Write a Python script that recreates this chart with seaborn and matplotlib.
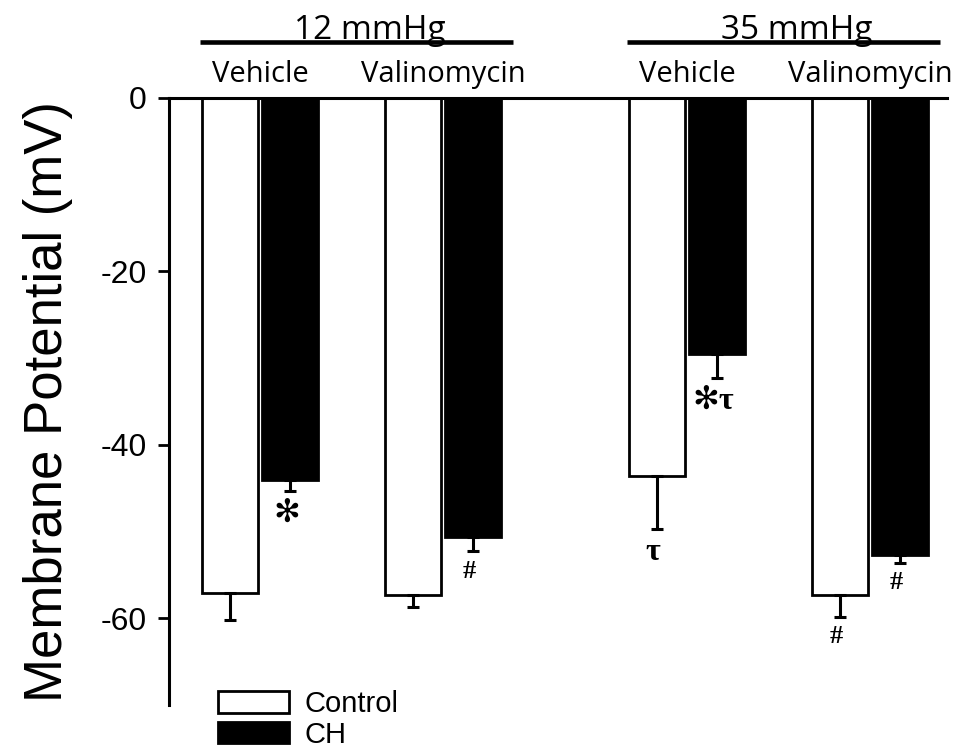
import numpy as np
import pandas as pd
import seaborn as sns
import matplotlib.pyplot as plt
from matplotlib import font_manager


# values (mV, mean and SEM)
pressure = ['12 mmHg', '35 mmHg']
treatment = ['Vehicle', 'Valinomycin', 'Vehicle', 'Valinomycin']
control_mean = [-57.1, -57.3, -43.6, -57.3]
control_sem = [3.1, 1.4, 6.1, 2.5]
ch_mean = [-44.0, -50.6, -29.5, -52.7]
ch_sem = [1.3, 1.7, 2.8, 0.9]
control_marks = ['', '', '\u03c4', '#']
ch_marks = ['\u273b', '#', '\u273b\u03c4', '#']
yticks = [0, -20, -40, -60]

# numeric slots so the two pressure blocks sit further apart
slots = [0, 1, 7 / 3, 10 / 3]

sns.set_style('white')
plt.rcParams['font.family'] = ['Liberation Sans', 'DejaVu Sans']
plt.rcParams['axes.unicode_minus'] = False
for key in ['text.color', 'axes.labelcolor', 'xtick.color', 'ytick.color']:
    plt.rcParams[key] = 'black'

names = {f.name for f in font_manager.fontManager.ttflist}
tick_font = 'Liberation Sans Narrow' if 'Liberation Sans Narrow' in names else 'Liberation Sans'
tick_size = 25 if tick_font == 'Liberation Sans Narrow' else 23

df = pd.DataFrame({
    'slot': slots * 2,
    'group': ['Control'] * 4 + ['CH'] * 4,
    'mean': control_mean + ch_mean,
})

fig = plt.figure(figsize=(9.59, 7.56), dpi=100)
ax = fig.add_axes([0.1762, 0.0675, 0.8113, 0.8029])

sns.barplot(
    data=df, x='slot', y='mean', hue='group',
    hue_order=['Control', 'CH'], native_scale=True,
    palette={'Control': 'white', 'CH': 'black'},
    edgecolor='black', linewidth=2, width=0.66, gap=0.08,
    errorbar=None, ax=ax)

# one-sided SEM bars hanging below each bar
for cont, sems, marks in zip(ax.containers, [control_sem, ch_sem],
                             [control_marks, ch_marks]):
    xs = [b.get_x() + b.get_width() / 2 for b in cont]
    ys = [b.get_height() for b in cont]
    ax.errorbar(xs, ys, yerr=[sems, np.zeros(len(sems))], fmt='none',
                ecolor='black', elinewidth=2.2, capsize=4.5, capthick=2.2,
                zorder=3)
    for x, y, s, m in zip(xs, ys, sems, marks):
        if not m:
            continue
        size = 19 if m == '#' else 23
        ax.text(x - 0.02, y - s - 1.0, m, ha='center', va='top',
                fontsize=size, fontweight='bold',
                family=['Liberation Serif', 'DejaVu Sans'])

handles, labels = ax.get_legend_handles_labels()
ax.get_legend().remove()

ax.set_ylim(-70, 0)
ax.set_xlim(-0.497, 3.754)
ax.set_xticks([])
ax.set_xlabel('')
ax.set_yticks(yticks)
ax.set_yticklabels([str(t) for t in yticks], family=tick_font, fontsize=tick_size)
ax.tick_params(axis='y', direction='out', length=8, width=2, pad=8, left=True)
ax.set_ylabel('Membrane Potential (mV)', fontsize=38, labelpad=20)

sns.despine(ax=ax, top=False, right=True, bottom=True, left=False)
for side in ['top', 'left']:
    ax.spines[side].set_linewidth(2.2)
    ax.spines[side].set_color('black')

# treatment labels above the bars and pressure headers with underline
for x, t in zip(slots, treatment):
    ax.text(x, 2.7, t, ha='center', va='center', fontsize=21,
            family='Open Sans', clip_on=False)
for i, p in enumerate(pressure):
    a, b = slots[2 * i], slots[2 * i + 1]
    ax.plot([a - 0.33, b + 0.38], [6.45, 6.45], color='black', lw=3.3,
            clip_on=False, solid_capstyle='butt')
    ax.text((a + b) / 2 + 0.1, 6.75, p, ha='center', va='baseline',
            fontsize=24, family='Open Sans', clip_on=False)

fig.legend(handles, labels, loc='upper left', bbox_to_anchor=(0.2273, 0.0873),
           frameon=False, fontsize=21, handlelength=2.43, handleheight=0.75,
           handletextpad=0.55, labelspacing=0.1, borderpad=0, borderaxespad=0)

fig.savefig('out.png', dpi=100)
